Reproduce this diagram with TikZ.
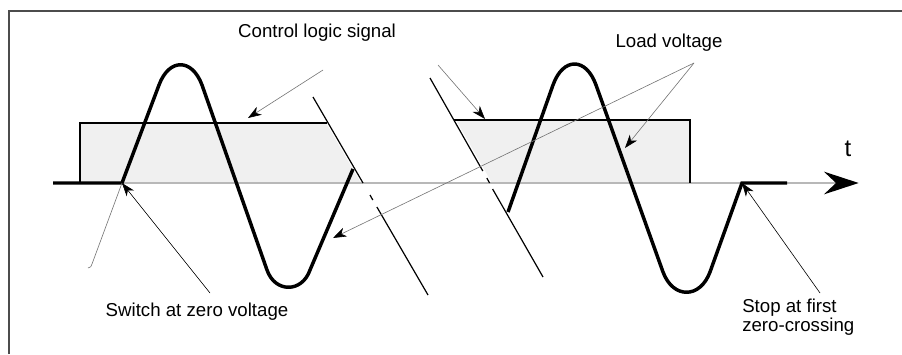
\documentclass[tikz,border=0pt]{standalone}
\usepackage{fontspec}
\setmainfont{Liberation Sans}
\usetikzlibrary{arrows.meta}

\begin{document}
\begin{tikzpicture}[x=0.75pt, y=-0.75pt,
    every node/.style={font=\fontsize{14}{14.5}\selectfont, inner sep=0pt},
    wave/.style={line width=2.6pt},
    edge/.style={line width=1.2pt},
    cut/.style={line width=0.9pt},
    leader/.style={line width=0.45pt, -{Stealth[length=10pt, width=7pt, inset=3pt, color=black]}}]
    \useasboundingbox (0,0) rectangle (902,354);
    \draw[black!70, line width=0.8pt] (9,354) |- (902,11);

    \node (ctl)    at (317,33)  {Control logic signal};
    \node (load)   at (669,43)  {Load voltage};
    \node (switch) at (197,312) {Switch at zero voltage};
    \node[anchor=west, align=left] (stop) at (742,317) {Stop at first\\zero-crossing};
    \node[font=\fontsize{18}{20}\selectfont] (t) at (848,149) {t};

    \coordinate (o)    at (53,183);
    \coordinate (tend) at (856,183);
    \coordinate (z1)   at (122,183);
    \coordinate (z2)   at (742,183);

    \fill[black!6] (80,123) -- (326,123) -- (361,183) -- (80,183) -- cycle;
    \fill[black!6] (456,120) -- (690,120) -- (690,183) -- (492,183) -- cycle;
    \draw[black!28, line width=1.1pt, -{Stealth[length=26pt, width=17pt, inset=9pt, color=black]}, shorten >=-2pt] (o) -- (tend);
    \draw[edge] (80,183) |- (327,123);
    \draw[edge] (454,120) -| (690,183);

    \draw[wave] (o) -- (z1) -- (159,85) .. controls (169,58) and (192,58) .. (202,85)
      -- (267,270) .. controls (275,293) and (302,293) .. (310,270) -- (353,169);
    \draw[wave] (508,212) -- (553,85) .. controls (563,57) and (586,57) .. (596,85)
      -- (663,272) .. controls (673,299) and (700,299) .. (710,272) -- (z2) -- (787,183);

    \draw[cut] (313,97) -- (363,183) (370,195) -- (372.8,200) (376.9,207) -- (428,295);
    \draw[cut] (430,78) -- (482.8,171) (486.8,178) -- (489.6,183) (492.6,189) -- (543,277);

    \coordinate (ctlA) at (323,70);
    \coordinate (ctlB) at (438,65);
    \coordinate (rect1) at (248,118);
    \coordinate (rect2) at (485,119);
    \coordinate (loadA) at (694,63);
    \coordinate (wave1) at (333,238);
    \coordinate (wave2) at (625,148);
    \coordinate (swA) at (210,293);
    \coordinate (stopA) at (820,293);
    \coordinate (hook) at (92,264);

    \draw[leader, black!55] (ctlA) -- (rect1);
    \draw[leader, black!55] (ctlB) -- (rect2);
    \draw[leader, black!55] (loadA) -- (wave1);
    \draw[leader, black!55] (loadA) -- (wave2);
    \draw[leader] (swA) -- (z1);
    \draw[leader] (stopA) -- (z2);
    \draw[black!55, line width=0.45pt] (z1) -- (hook) .. controls (91,267) .. (88,268);
\end{tikzpicture}
\end{document}
